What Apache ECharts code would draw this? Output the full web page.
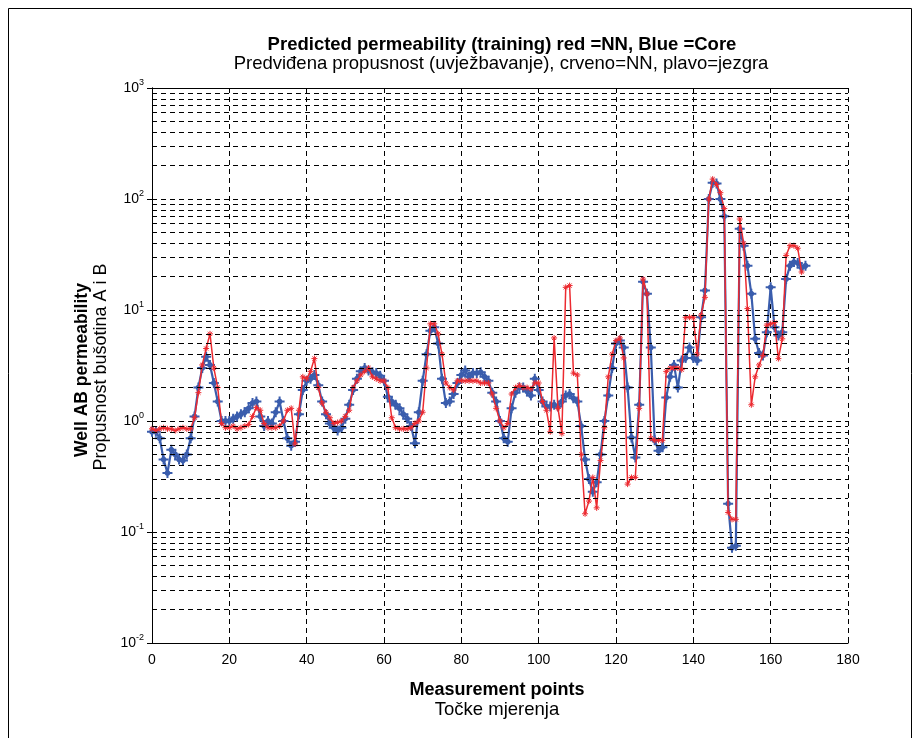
<!DOCTYPE html>
<html>
<head>
<meta charset="utf-8">
<script src="https://cdn.jsdelivr.net/npm/echarts@6/dist/echarts.min.js"></script>
<style>
  html, body { margin: 0; padding: 0; background: #fff; }
  #chart { width: 920px; height: 738px; }
</style>
</head>
<body>
<div id="chart"></div>
<script>
// measurement points 0..169, core permeability (blue)
var coreVals = [
  0.8,0.8,0.7,0.45,0.34,0.55,0.5,0.45,0.44,0.5,
  0.7,1.1,2.0,3.0,3.8,3.2,2.2,1.5,1.0,1.0,
  1.0,1.05,1.1,1.15,1.2,1.3,1.45,1.5,1.1,0.9,
  1.0,0.95,1.2,1.5,1.0,0.7,0.6,0.65,1.15,1.9,
  2.3,2.4,2.6,2.1,1.5,1.15,0.95,0.87,0.82,0.87,
  1.05,1.4,1.9,2.4,2.8,3.0,2.85,2.75,2.7,2.55,
  2.3,1.65,1.5,1.4,1.3,1.15,1.05,0.9,0.63,1.2,
  2.3,4.0,6.5,7.0,5.0,2.4,1.45,1.5,1.75,2.2,
  2.6,2.85,2.5,2.7,2.7,2.75,2.5,2.3,1.8,1.5,
  1.0,0.7,0.65,1.3,1.8,2.0,2.0,1.85,1.7,2.4,
  1.9,1.5,1.35,1.35,1.4,1.35,1.5,1.7,1.75,1.6,
  1.5,0.9,0.45,0.3,0.23,0.28,0.5,1.0,1.7,3.0,
  5.0,5.3,4.6,2.0,0.71,0.47,1.4,18,14,4.6,
  0.67,0.54,0.58,1.63,2.5,3.2,2.0,3.5,3.7,4.6,
  3.7,3.5,8.6,15,100,140,138,100,70,0.18,
  0.072,0.075,54,38,25,14,5.5,4.1,3.9,6.3,
  16,7,5.9,6.3,19,25,27,26.5,24,25
];
// NN prediction (red)
var nnVals = [
  0.85,0.82,0.85,0.87,0.85,0.85,0.82,0.85,0.87,0.85,
  0.85,1.07,1.8,3.2,4.5,6.1,3.0,2.0,0.95,0.87,
  0.87,0.9,0.85,0.87,0.9,0.93,1.1,1.32,1.25,0.95,
  0.87,0.87,0.87,0.9,1.0,1.25,1.3,0.62,1.25,2.5,
  2.4,2.8,3.65,2.0,1.45,1.2,1.07,0.95,0.97,1.0,
  1.1,1.25,2.0,2.3,2.6,2.8,3.0,2.5,2.4,2.3,
  2.3,2.0,1.07,0.87,0.85,0.85,0.85,0.87,0.95,1.0,
  1.2,3.0,7.5,7.5,6.1,4.0,2.2,2.0,1.9,2.3,
  2.3,2.3,2.3,2.3,2.3,2.2,2.2,2.2,1.75,1.3,
  1.0,0.87,0.95,1.75,2.0,2.1,2.0,2.0,1.95,2.2,
  2.2,1.5,1.25,0.8,5.6,1.3,0.77,16,16.6,2.7,
  2.6,0.5,0.146,0.19,0.31,0.165,0.44,0.87,2.5,4.0,
  5.3,5.6,3.7,0.27,0.31,0.31,1.3,19,14,0.7,
  0.67,0.67,0.67,2.8,3.0,3.0,3.0,2.9,8.6,8.6,
  8.6,4.0,9,13,100,151,135,114,82,0.15,
  0.13,0.13,66,40,10.3,1.4,2.5,3.2,3.9,7.3,
  7.5,7.7,3.65,5.5,31,38,38,36,22
];
var xTicks = [0, 20, 40, 60, 80, 100, 120, 140, 160, 180];
var minorMult = [2, 3, 4, 5, 6, 7, 8, 9];
var decades = [0.01, 0.1, 1, 10, 100];

var font = 'Liberation Sans, Arial, sans-serif';

function pairs(arr) {
  var out = [];
  for (var i = 0; i < arr.length; i++) out.push([i, arr[i]]);
  return out;
}

// log minor grid lines (2..9 within each decade)
var minorLines = [];
decades.forEach(function (d) {
  minorMult.forEach(function (m) {
    minorLines.push({ yAxis: +(d * m).toPrecision(3) });
  });
});

var star = 'path://M0,-10L0,10M-10,0L10,0M-7,-7L7,7M-7,7L7,-7';
var plus = 'path://M0,-10L0,10M-10,0L10,0M-4,-4L4,4M-4,4L4,-4';

var gridDash = { color: '#000', type: [5, 4], width: 1 };

var chart = echarts.init(document.getElementById('chart'));
chart.setOption({
  backgroundColor: '#fff',
  animation: false,
  grid: { left: 152, right: 72, top: 88, bottom: 95 },
  xAxis: [{
    type: 'value', min: 0, max: 180, interval: 20,
    axisLine: { lineStyle: { color: '#000', width: 1 } },
    axisTick: { inside: true, length: 5, lineStyle: { color: '#000' } },
    axisLabel: { color: '#000', fontFamily: font, fontSize: 14, margin: 10 },
    splitLine: { show: true, lineStyle: gridDash }
  }, {
    type: 'value', min: 0, max: 180, interval: 20, position: 'top',
    axisLine: { lineStyle: { color: '#000', width: 1 } },
    axisTick: { inside: true, length: 5, lineStyle: { color: '#000' } },
    axisLabel: { show: false }, splitLine: { show: false }
  }],
  yAxis: [{
    type: 'log', logBase: 10, min: 0.01, max: 1000,
    axisLine: { lineStyle: { color: '#000', width: 1 } },
    axisTick: { inside: true, length: 5, lineStyle: { color: '#000' } },
    axisLabel: {
      color: '#000', fontFamily: font, fontSize: 14, margin: 8,
      formatter: function (v) {
        return '10{e|' + Math.round(Math.log10(v)) + '}';
      },
      rich: { e: { fontSize: 9, fontFamily: font, color: '#000', padding: [0, 0, 10, 0] } }
    },
    splitLine: { show: true, lineStyle: gridDash }
  }, {
    type: 'log', logBase: 10, min: 0.01, max: 1000, position: 'right',
    axisLine: { lineStyle: { color: '#000', width: 1 } },
    axisTick: { inside: true, length: 5, lineStyle: { color: '#000' } },
    axisLabel: { show: false }, splitLine: { show: false }
  }],
  series: [{
    type: 'line', data: [], z: 1, silent: true,
    markLine: {
      silent: true, symbol: 'none', animation: false,
      label: { show: false },
      lineStyle: gridDash,
      data: minorLines
    }
  }, {
    name: 'Core', type: 'line', data: pairs(coreVals), z: 3,
    symbol: plus, symbolSize: 10,
    lineStyle: { color: '#3a5dad', width: 2.2 },
    itemStyle: { color: '#3a5dad', borderColor: '#3a5dad', borderWidth: 2 }
  }, {
    name: 'NN', type: 'line', data: pairs(nnVals), z: 4,
    symbol: star, symbolSize: 6,
    lineStyle: { color: '#ec2a30', width: 1.5 },
    itemStyle: { color: '#ec2a30', borderColor: '#ec2a30', borderWidth: 1 }
  }],
  graphic: [
    { type: 'rect', shape: { x: 8.5, y: 8.5, width: 903, height: 760 },
      style: { fill: 'none', stroke: '#000', lineWidth: 1 }, silent: true },
    { type: 'text', x: 502, y: 45, style: { text: 'Predicted permeability (training) red =NN, Blue =Core',
      font: 'bold 18.5px ' + font, fill: '#000', textAlign: 'center', textVerticalAlign: 'middle' } },
    { type: 'text', x: 501, y: 64, style: { text: 'Predviđena propusnost (uvježbavanje), crveno=NN, plavo=jezgra',
      font: '18.5px ' + font, fill: '#000', textAlign: 'center', textVerticalAlign: 'middle' } },
    { type: 'text', x: 497, y: 690, style: { text: 'Measurement points',
      font: 'bold 18px ' + font, fill: '#000', textAlign: 'center', textVerticalAlign: 'middle' } },
    { type: 'text', x: 497, y: 710, style: { text: 'Točke mjerenja',
      font: '18.5px ' + font, fill: '#000', textAlign: 'center', textVerticalAlign: 'middle' } },
    { type: 'text', x: 82, y: 370, rotation: Math.PI / 2, style: { text: 'Well AB permeability',
      font: 'bold 17.5px ' + font, fill: '#000', textAlign: 'center', textVerticalAlign: 'middle' } },
    { type: 'text', x: 101, y: 367, rotation: Math.PI / 2, style: { text: 'Propusnost bušotina A i B',
      font: '18px ' + font, fill: '#000', textAlign: 'center', textVerticalAlign: 'middle' } }
  ]
});
</script>
</body>
</html>
